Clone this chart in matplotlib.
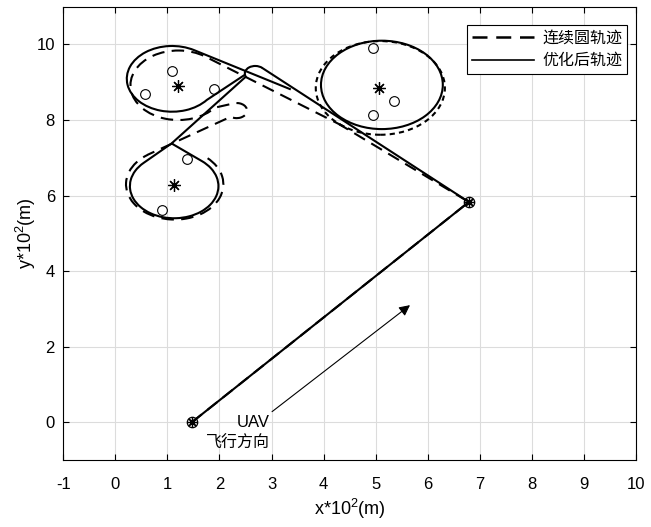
import numpy as np
import matplotlib
matplotlib.use("Agg")
import matplotlib.pyplot as plt
from matplotlib.path import Path
from matplotlib.patches import PathPatch, Circle
from matplotlib.lines import Line2D
from matplotlib.transforms import Affine2D

plt.rcParams["font.family"] = ["Liberation Sans", "Noto Sans CJK SC"]
plt.rcParams["mathtext.default"] = "regular"
plt.rcParams["axes.unicode_minus"] = False

# ---------------- data (x, y in units of 100 m) ----------------
start_pt = (1.47, 0.0)
turn_pt = (6.79, 5.83)

# target points (hollow circles)
target_x = [4.94, 5.35, 4.94, 1.08, 0.57, 1.90, 1.37, 0.89]
target_y = [9.90, 8.50, 8.13, 9.31, 8.69, 8.81, 6.98, 5.63]

# cluster centres (asterisks)
center_x = [5.07, 1.20, 1.13]
center_y = [8.84, 8.90, 6.28]

# continuous-circle trajectory (dashed): circles around cluster centres
dash_right = (5.09, 8.85, 1.24)
dash_upper = (1.21, 8.92, 0.92)
dash_mid = (1.14, 6.30, 0.935)
dash_hook = (2.33, 8.25, 0.20)
dash_tan_right_in = (4.30, 7.89)
dash_tan_right_out = (4.40, 7.82)
dash_tan_upper = (1.72, 9.685)
dash_upper_arc = (56.2, 320)
dash_hook_arc = (100, -125)
dash_mid_tan = (0.62, 7.08)
dash_mid_arc = (124, 408)

# optimised trajectory (solid)
solid_right = (5.12, 8.93, 1.17)
solid_l1_end = (2.82, 9.38)
solid_knob = (2.687, 9.231, 0.20)
solid_knob_arc = (48, 205)
solid_upper = (1.09, 9.09, 0.87)
solid_upper_arc = (61, 320)
solid_upper_join = (3.37, 8.81)
solid_knob_left = (2.49, 9.20)
solid_mid = (1.13, 6.25, 0.85)
solid_mid_arc = (134, 411)
solid_mid_tip = (1.08, 7.38)

arrow_tail = (3.01, 0.28)
arrow_head = (5.66, 3.10)


def arc_piece(cx, cy, r, t1, t2):
    """Bezier arc (ccw if t2 > t1, otherwise cw) as vertices/codes."""
    if t2 >= t1:
        p = Path.arc(t1, t2)
        v = p.vertices
    else:
        p = Path.arc(t2, t1)
        v = p.vertices[::-1]
    v = Affine2D().scale(r).translate(cx, cy).transform(v)
    return list(map(tuple, v)), list(p.codes)


def build_path(pieces):
    verts, codes = [], []
    for kind, val in pieces:
        if kind == "pt":
            verts.append(val)
            codes.append(Path.LINETO)
        else:
            v, c = arc_piece(*val)
            verts.extend(v)
            codes.append(Path.LINETO)
            codes.extend(c[1:])
    codes[0] = Path.MOVETO
    return Path(verts, codes)


def draw(ax, pieces, **kw):
    ax.add_patch(PathPatch(build_path(pieces), fill=False, **kw))


fig = plt.figure(figsize=(6.51, 5.27), dpi=100)
ax = fig.add_axes([0.0972, 0.1271, 0.8797, 0.8602])

solid_kw = dict(edgecolor="black", lw=1.5, linestyle="-", capstyle="butt")
dash_kw = dict(edgecolor="black", lw=1.5, linestyle=(0, (6, 3.5)), capstyle="butt")
dot_kw = dict(edgecolor="black", lw=1.5, linestyle=(0, (2.5, 2)), capstyle="butt")

# optimised trajectory
draw(ax, [("pt", start_pt), ("pt", turn_pt), ("pt", solid_l1_end),
          ("arc", solid_knob[:3] + solid_knob_arc), ("pt", solid_mid_tip),
          ("arc", solid_mid[:3] + solid_mid_arc), ("pt", solid_mid_tip)], **solid_kw)
draw(ax, [("pt", solid_upper_join),
          ("arc", solid_upper[:3] + solid_upper_arc),
          ("pt", solid_knob_left)], **solid_kw)
ax.add_patch(Circle(solid_right[:2], solid_right[2], fill=False, **solid_kw))

# continuous-circle trajectory
draw(ax, [("pt", start_pt), ("pt", turn_pt), ("pt", dash_tan_right_in)], **dash_kw)
ax.add_patch(Circle(dash_right[:2], dash_right[2], fill=False, **dot_kw))
draw(ax, [("pt", dash_tan_right_out), ("pt", dash_tan_upper),
          ("arc", dash_upper[:3] + dash_upper_arc),
          ("arc", dash_hook[:3] + dash_hook_arc),
          ("pt", dash_mid_tan),
          ("arc", dash_mid[:3] + dash_mid_arc)], **dash_kw)

# markers
ax.plot(target_x, target_y, "o", ms=7, mfc="none", mec="black", mew=0.8)
ax.plot(center_x, center_y, ls="none", marker=(8, 2, 0), ms=9, mec="black", mew=0.9)
for p in (start_pt, turn_pt):
    ax.plot(*p, "o", ms=7.5, mfc="none", mec="black", mew=0.9)
    ax.plot(*p, ls="none", marker=(8, 2, 0), ms=7.5, mec="black", mew=0.9)

# flight direction arrow
ax.annotate("", xy=arrow_head, xytext=arrow_tail,
            arrowprops=dict(arrowstyle="-|>", color="black", lw=0.8,
                            mutation_scale=16, shrinkA=0, shrinkB=0))
ax.text(2.97, 0.0, "UAV", ha="right", va="center", fontsize=12)
ax.text(2.97, -0.56, "飞行方向", ha="right", va="center", fontsize=11.5,
        family=["Noto Sans CJK SC", "DejaVu Sans"])

ax.set_xlim(-1, 10)
ax.set_ylim(-1, 11)
ax.set_xticks(np.arange(-1, 11, 1))
ax.set_yticks(np.arange(0, 11, 2))
ax.grid(True, color="#dcdcdc", lw=0.8)
ax.set_axisbelow(True)
ax.tick_params(direction="in", top=True, right=True, length=4, labelsize=12,
               width=0.8)
ax.tick_params(axis="x", pad=12)
ax.tick_params(axis="y", pad=6)
for s in ax.spines.values():
    s.set_linewidth(0.8)
ax.set_xlabel("x*10$^2$(m)", fontsize=13, labelpad=4)
ax.set_ylabel("y*10$^2$(m)", fontsize=13, labelpad=-1)

handles = [Line2D([], [], color="black", lw=1.8, linestyle=(0, (6, 3.5))),
           Line2D([], [], color="black", lw=1.2)]
leg = ax.legend(handles, ["连续圆轨迹", "优化后轨迹"], loc="upper right",
                bbox_to_anchor=(0.984, 0.96), borderaxespad=0, fancybox=False,
                framealpha=1, edgecolor="black", handlelength=3.9,
                handletextpad=0.5, borderpad=0.3, labelspacing=0.35,
                prop={"family": ["Noto Sans CJK SC", "DejaVu Sans"], "size": 11.5})
leg.get_frame().set_linewidth(0.8)

fig.savefig("out.png", dpi=100)
